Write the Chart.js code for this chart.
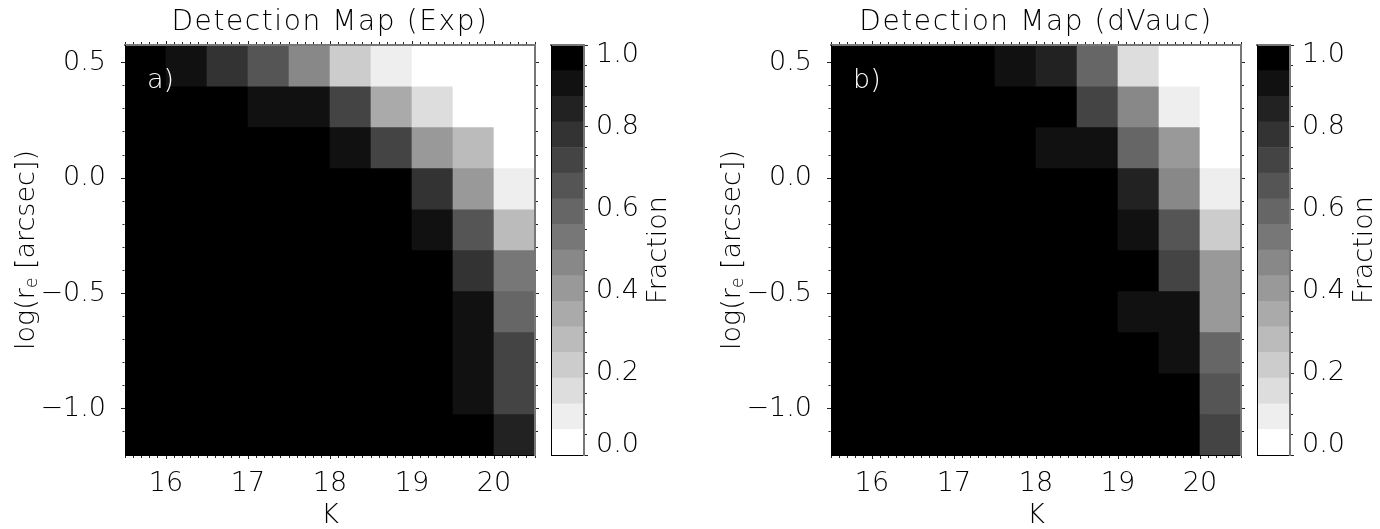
<!DOCTYPE html>
<html>
<head>
<meta charset="utf-8">
<title>Detection Map</title>
<script src="https://cdn.jsdelivr.net/npm/chart.js@4.4.1/dist/chart.umd.min.js"></script>
<style>
  html, body { margin: 0; padding: 0; background: #fff; }
  #page { position: relative; width: 1380px; height: 529px; overflow: hidden; }
  #page canvas { position: absolute; top: 0; }
</style>
</head>
<body>
<div id="page">
  <canvas id="mapExp" width="545" height="529" style="left:0px"></canvas>
  <canvas id="barExp" width="140" height="529" style="left:540px"></canvas>
  <canvas id="mapDev" width="545" height="529" style="left:706px"></canvas>
  <canvas id="barDev" width="134" height="529" style="left:1246px"></canvas>
</div>
<script>
// bin edges: K magnitude and log(r_e) in arcsec
var kEdges = [15.5, 16.0, 16.5, 17.0, 17.5, 18.0, 18.5, 19.0, 19.5, 20.0, 20.5];
var logReEdges = [-1.2, -1.022, -0.845, -0.667, -0.489, -0.311, -0.134, 0.044, 0.222, 0.399, 0.577];

// detected fraction per bin; first row = largest r_e, columns run along K
var fracExp = [
  [1.00, 0.91, 0.78, 0.66, 0.47, 0.22, 0.09, 0.00, 0.00, 0.00],
  [1.00, 1.00, 1.00, 0.91, 0.91, 0.72, 0.34, 0.16, 0.00, 0.00],
  [1.00, 1.00, 1.00, 1.00, 1.00, 0.91, 0.72, 0.41, 0.28, 0.00],
  [1.00, 1.00, 1.00, 1.00, 1.00, 1.00, 1.00, 0.78, 0.41, 0.09],
  [1.00, 1.00, 1.00, 1.00, 1.00, 1.00, 1.00, 0.91, 0.66, 0.28],
  [1.00, 1.00, 1.00, 1.00, 1.00, 1.00, 1.00, 1.00, 0.78, 0.53],
  [1.00, 1.00, 1.00, 1.00, 1.00, 1.00, 1.00, 1.00, 0.91, 0.59],
  [1.00, 1.00, 1.00, 1.00, 1.00, 1.00, 1.00, 1.00, 0.91, 0.72],
  [1.00, 1.00, 1.00, 1.00, 1.00, 1.00, 1.00, 1.00, 0.91, 0.72],
  [1.00, 1.00, 1.00, 1.00, 1.00, 1.00, 1.00, 1.00, 1.00, 0.84]
];
var fracDev = [
  [1.00, 1.00, 1.00, 1.00, 0.91, 0.84, 0.59, 0.16, 0.00, 0.00],
  [1.00, 1.00, 1.00, 1.00, 1.00, 1.00, 0.72, 0.47, 0.09, 0.00],
  [1.00, 1.00, 1.00, 1.00, 1.00, 0.91, 0.91, 0.59, 0.41, 0.00],
  [1.00, 1.00, 1.00, 1.00, 1.00, 1.00, 1.00, 0.84, 0.47, 0.09],
  [1.00, 1.00, 1.00, 1.00, 1.00, 1.00, 1.00, 0.91, 0.66, 0.22],
  [1.00, 1.00, 1.00, 1.00, 1.00, 1.00, 1.00, 1.00, 0.72, 0.41],
  [1.00, 1.00, 1.00, 1.00, 1.00, 1.00, 1.00, 0.91, 0.91, 0.41],
  [1.00, 1.00, 1.00, 1.00, 1.00, 1.00, 1.00, 1.00, 0.91, 0.59],
  [1.00, 1.00, 1.00, 1.00, 1.00, 1.00, 1.00, 1.00, 1.00, 0.66],
  [1.00, 1.00, 1.00, 1.00, 1.00, 1.00, 1.00, 1.00, 1.00, 0.72]
];

var kTicks = [16, 17, 18, 19, 20];
var logReTicks = [-1.0, -0.5, 0.0, 0.5];
var fracTicks = [0.0, 0.2, 0.4, 0.6, 0.8, 1.0];
var nLevels = 16;

var fontFamily = '"DejaVu Sans", "Noto Sans", sans-serif';
var fontWeight = 200;
Chart.defaults.font.family = fontFamily;
Chart.defaults.font.weight = fontWeight;
Chart.defaults.color = '#000';

function fontSpec(size) {
  return fontWeight + ' ' + size + 'px ' + fontFamily;
}

function isMult(v, step) {
  var q = v / step;
  return Math.abs(q - Math.round(q)) < 1e-6;
}

function fmt(v) {
  v = Math.round(v * 10) / 10;
  return (v < 0 ? '\u2212' : '') + Math.abs(v).toFixed(1);
}

// 16 grey levels, white = 0 up to black = 1
function grayOf(f) {
  var level = Math.min(nLevels - 1, Math.floor(f * nLevels));
  var g = Math.round(255 * (1 - level / (nLevels - 1)));
  return 'rgb(' + g + ',' + g + ',' + g + ')';
}

// outward ticks, minor ones cut short with a dash pattern
function tickGrid(step, fromAxis, borderW) {
  var len = 4;
  return {
    drawOnChartArea: false,
    offset: false,
    tickLength: len,
    tickWidth: 1,
    tickColor: '#222',
    tickBorderDash: function(c) {
      if (!c.tick || isMult(c.tick.value, step)) return [];
      return fromAxis ? [2, 20] : [0, len - borderW / 2 - 2, 2, 20];
    }
  };
}

// frame lines go on top of the cells
function frame(color, width) {
  return {color: color, width: width, z: 1};
}

// one floating-bar dataset per r_e row
function cellDatasets(grid) {
  var n = grid.length;
  return grid.map(function(row, r) {
    var lo = logReEdges[n - 1 - r], hi = logReEdges[n - r];
    return {
      data: row.map(function(f, c) {
        return {x: (kEdges[c] + kEdges[c + 1]) / 2, y: [lo, hi]};
      }),
      backgroundColor: row.map(grayOf),
      borderWidth: 0,
      barThickness: 'flex',
      categoryPercentage: 1,
      barPercentage: 1
    };
  });
}

var panelText = {
  id: 'panelText',
  afterDraw: function(chart, args, opts) {
    var ctx = chart.ctx, a = chart.chartArea;
    var cx = (a.left + a.right) / 2, cy = (a.top + a.bottom) / 2;
    ctx.save();
    ctx.fillStyle = '#000';
    ctx.textAlign = 'center';
    ctx.textBaseline = 'middle';
    ctx.font = fontSpec(28);
    ctx.letterSpacing = '1.6px';
    ctx.fillText(opts.title, cx, 23);
    ctx.letterSpacing = '0px';
    ctx.font = fontSpec(27);
    ctx.fillText('K', cx, 516);

    // log(r_e [arcsec]) with a small subscript e
    var parts = [['log(r', 27, 0], ['e', 17, 6], [' [arcsec])', 27, 0]];
    var total = 0;
    parts.forEach(function(p) { ctx.font = fontSpec(p[1]); p.push(ctx.measureText(p[0]).width); total += p[3]; });
    ctx.save();
    ctx.translate(a.left - 98, cy);
    ctx.rotate(-Math.PI / 2);
    ctx.textAlign = 'left';
    var x = -total / 2;
    parts.forEach(function(p) {
      ctx.font = fontSpec(p[1]);
      ctx.fillText(p[0], x, p[2]);
      x += p[3];
    });
    ctx.restore();

    ctx.fillStyle = '#fff';
    ctx.textAlign = 'left';
    ctx.font = fontSpec(27);
    ctx.fillText(opts.tag, a.left + 22, a.top + 36);
    ctx.restore();
  }
};

var barText = {
  id: 'barText',
  afterDraw: function(chart, args, opts) {
    var ctx = chart.ctx, a = chart.chartArea, s = chart.scales.y;
    ctx.save();
    ctx.fillStyle = '#000';
    ctx.font = fontSpec(27);
    ctx.textAlign = 'left';
    ctx.textBaseline = 'middle';
    fracTicks.forEach(function(v) {
      var y = Math.min(Math.max(s.getPixelForValue(v), a.top + 10), a.bottom - 10);
      ctx.fillText(v.toFixed(1), a.right + 12, y);
    });
    ctx.translate(a.right + 75, (a.top + a.bottom) / 2);
    ctx.rotate(-Math.PI / 2);
    ctx.textAlign = 'center';
    ctx.fillText(opts.title, 0, 0);
    ctx.restore();
  }
};

function makeMap(id, grid, title, tag) {
  var kMin = kEdges[0], kMax = kEdges[kEdges.length - 1];
  var rMin = logReEdges[0], rMax = logReEdges[logReEdges.length - 1];
  return new Chart(document.getElementById(id), {
    type: 'bar',
    data: {datasets: cellDatasets(grid)},
    plugins: [panelText],
    options: {
      responsive: false,
      animation: false,
      events: [],
      layout: {padding: 0},
      plugins: {
        legend: {display: false},
        tooltip: {enabled: false},
        panelText: {title: title, tag: tag}
      },
      scales: {
        x: {
          type: 'linear', position: 'bottom', min: kMin, max: kMax,
          offset: false, stacked: true,
          ticks: {
            stepSize: 0.1, autoSkip: false, includeBounds: false, maxRotation: 0,
            padding: 9, font: {size: 27}, color: '#000',
            callback: function(v) {
              var k = Math.round(v * 10) / 10;
              return kTicks.indexOf(k) >= 0 ? String(k) : '';
            }
          },
          grid: tickGrid(1, true, 1),
          border: frame('#000', 1),
          afterFit: function(s) { s.height = 74; }
        },
        x2: {
          type: 'linear', position: 'top', min: kMin, max: kMax, offset: false,
          ticks: {display: false, stepSize: 0.1, includeBounds: false},
          grid: tickGrid(1, false, 2),
          border: frame('#777', 2),
          afterFit: function(s) { s.height = 45; }
        },
        y: {
          type: 'linear', position: 'left', min: rMin, max: rMax, stacked: false,
          ticks: {
            stepSize: 0.1, autoSkip: false, includeBounds: false,
            padding: 15, font: {size: 27}, color: '#000',
            callback: function(v) {
              var r = Math.round(v * 10) / 10;
              return logReTicks.indexOf(r) >= 0 ? fmt(r) : '';
            }
          },
          grid: tickGrid(0.5, false, 1),
          border: frame('#000', 1),
          afterFit: function(s) { s.width = 125; }
        },
        y2: {
          type: 'linear', position: 'right', min: rMin, max: rMax,
          ticks: {display: false, stepSize: 0.1, includeBounds: false},
          grid: tickGrid(0.5, true, 2),
          border: frame('#777', 2),
          afterFit: function(s) { s.width = 10; }
        }
      }
    }
  });
}

function makeBar(id, rightWidth) {
  var sets = [];
  for (var k = 0; k < nLevels; k++) {
    sets.push({
      data: [[k / nLevels, (k + 1) / nLevels]],
      backgroundColor: grayOf((k + 0.5) / nLevels),
      borderWidth: 0,
      categoryPercentage: 1,
      barPercentage: 1
    });
  }
  return new Chart(document.getElementById(id), {
    type: 'bar',
    data: {labels: [''], datasets: sets},
    plugins: [barText],
    options: {
      responsive: false,
      animation: false,
      events: [],
      layout: {padding: 0},
      plugins: {
        legend: {display: false},
        tooltip: {enabled: false},
        barText: {title: 'Fraction'}
      },
      scales: {
        x: {
          type: 'category', position: 'bottom', stacked: true,
          ticks: {display: false},
          grid: {drawOnChartArea: false, drawTicks: false},
          border: frame('#000', 1),
          afterFit: function(s) { s.height = 74; }
        },
        xt: {
          type: 'linear', position: 'top', min: 0, max: 1, offset: false,
          ticks: {display: false},
          grid: {drawOnChartArea: false, drawTicks: false, offset: false},
          border: frame('#777', 2),
          afterFit: function(s) { s.height = 45; }
        },
        yl: {
          type: 'linear', position: 'left', min: 0, max: 1,
          ticks: {display: false},
          grid: {drawOnChartArea: false, drawTicks: false},
          border: frame('#000', 1),
          afterFit: function(s) { s.width = 11; }
        },
        y: {
          type: 'linear', position: 'right', min: 0, max: 1, stacked: false,
          ticks: {display: false, stepSize: 0.05, includeBounds: false},
          grid: tickGrid(0.2, true, 2),
          border: frame('#777', 2),
          afterFit: function(s) { s.width = rightWidth; }
        }
      }
    }
  });
}

makeMap('mapExp', fracExp, 'Detection Map (Exp)', 'a)');
makeBar('barExp', 96);
makeMap('mapDev', fracDev, 'Detection Map (dVauc)', 'b)');
makeBar('barDev', 90);
</script>
</body>
</html>
